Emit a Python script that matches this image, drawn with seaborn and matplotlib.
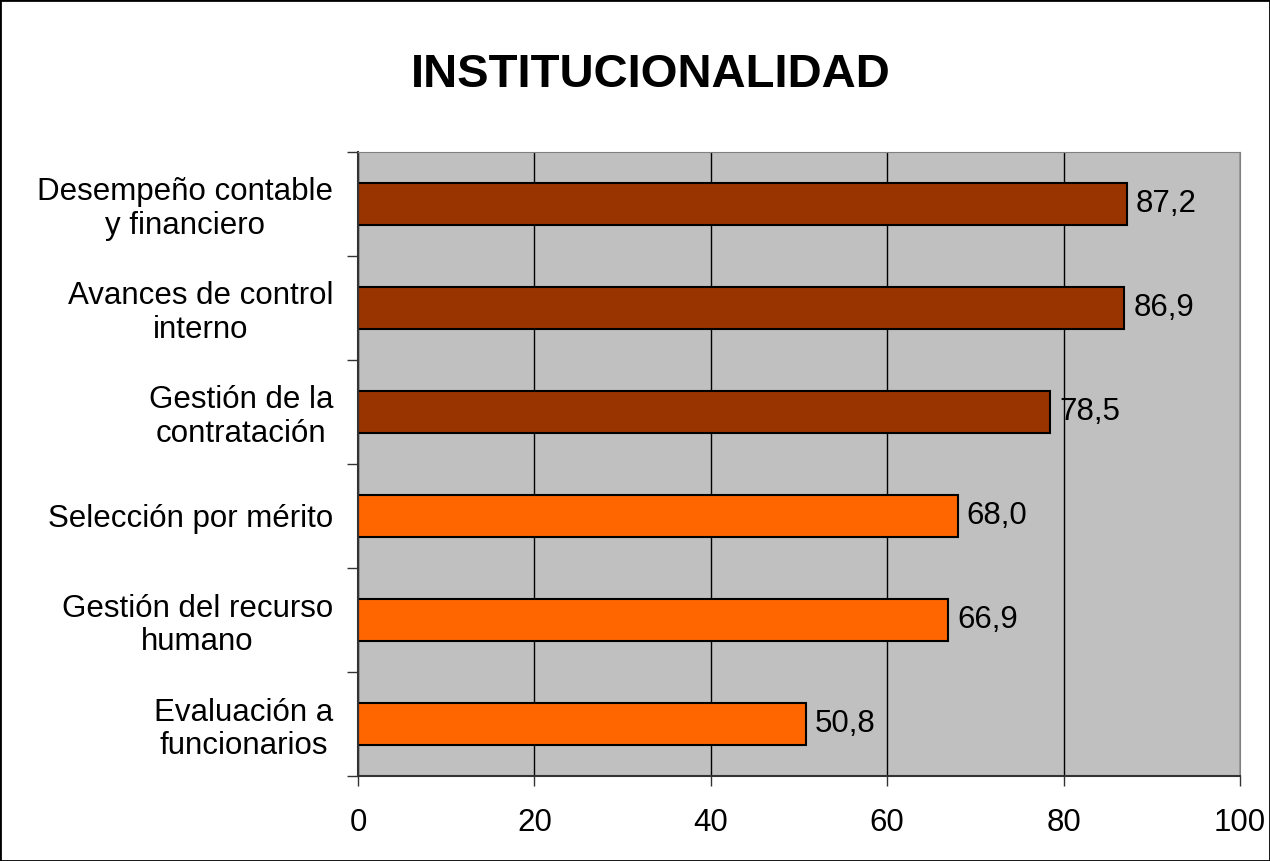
import matplotlib.pyplot as plt
import seaborn as sns
import pandas as pd

categories = ["Desempeño contable\ny financiero", "Avances de control\ninterno",
              "Gestión de la\ncontratación", "Selección por mérito",
              "Gestión del recurso\nhumano", "Evaluación a\nfuncionarios"]
values = [87.2, 86.9, 78.5, 68.0, 66.9, 50.8]
groups = ["a", "a", "a", "b", "b", "b"]
palette = {"a": "#993300", "b": "#FF6600"}

df = pd.DataFrame({"cat": categories, "val": values, "grp": groups})

sns.set_style("white")
plt.rcParams['font.family'] = ['Liberation Sans', 'DejaVu Sans']
plt.rcParams['text.color'] = 'black'
plt.rcParams['xtick.color'] = 'black'
plt.rcParams['ytick.color'] = 'black'
plt.rcParams['xtick.bottom'] = True
plt.rcParams['ytick.left'] = True

fig = plt.figure(figsize=(12.7, 8.61), dpi=100)
ax = fig.add_axes([0.2819, 0.0987, 0.6945, 0.7248])
ax.set_facecolor("#C0C0C0")

sns.barplot(data=df, x="val", y="cat", hue="grp", palette=palette, dodge=False,
            legend=False, width=0.41, saturation=1, edgecolor="black",
            linewidth=1.5, ax=ax)

ax.set_xlim(0, 100)
ax.set_ylim(5.5, -0.5)
ax.set_xticks([0, 20, 40, 60, 80, 100])
ax.xaxis.grid(True, color="black", linewidth=1)
ax.set_axisbelow(True)

# ticks on category boundaries, labels at centres
ax.set_yticks([i - 0.5 for i in range(7)], minor=True)
ax.tick_params(axis="y", which="major", length=0, pad=18, labelsize=22.5)
ax.tick_params(axis="y", which="minor", length=8, width=1, color="#333333")
ax.tick_params(axis="x", length=7, width=1, color="#333333", pad=16, labelsize=22.5)
for lab in ax.get_yticklabels():
    lab.set_multialignment("center")
    lab.set_linespacing(1.15)

for s in ["top", "right"]:
    ax.spines[s].set_color("#808080")
for s in ["left", "bottom"]:
    ax.spines[s].set_color("#333333")
    ax.spines[s].set_linewidth(1.5)

for i, v in enumerate(values):
    ax.text(v + 1, i, f"{v:.1f}".replace(".", ","), va="center", ha="left", fontsize=22.5)

ax.set_xlabel("")
ax.set_ylabel("")
fig.text(0.5126, 0.913, "INSTITUCIONALIDAD", ha="center", va="center",
         fontsize=34, fontweight="bold")

fig.patches.append(plt.Rectangle((0, 0), 1, 1, transform=fig.transFigure,
                                 fill=False, edgecolor="black", linewidth=2))

fig.savefig("out.png", dpi=100)
